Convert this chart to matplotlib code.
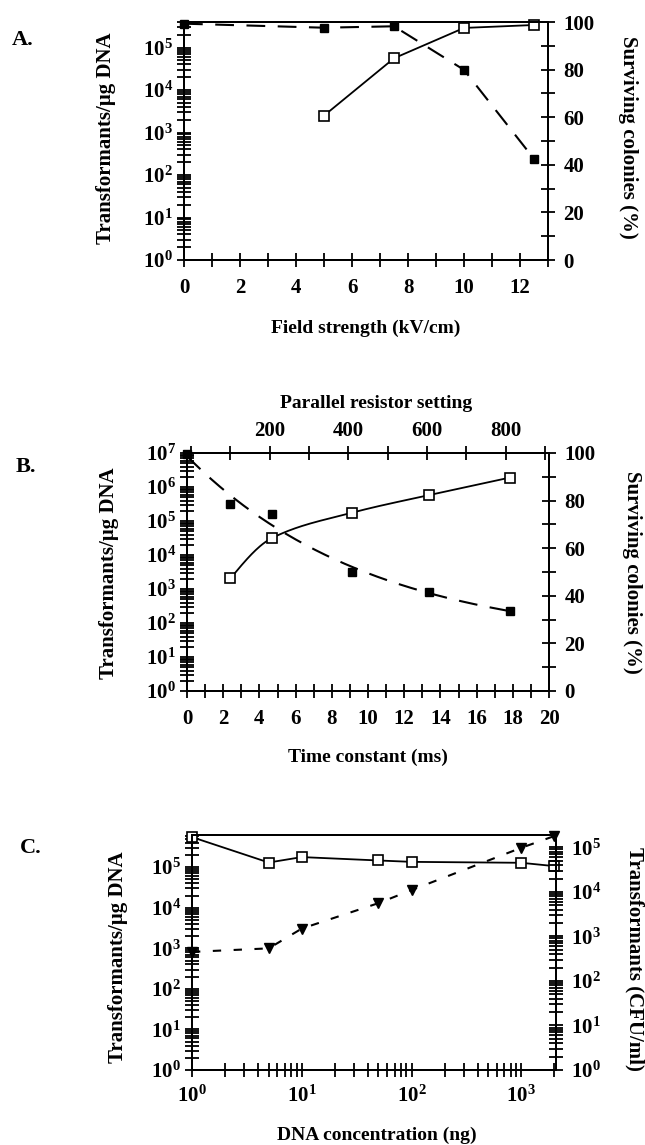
import numpy as np
import matplotlib
matplotlib.use('Agg')
import matplotlib.pyplot as plt
from matplotlib.ticker import MultipleLocator, FixedLocator, FuncFormatter, LogLocator, NullFormatter

plt.rcParams['font.family'] = ['Liberation Serif', 'DejaVu Serif']
plt.rcParams['font.weight'] = 'bold'
plt.rcParams['mathtext.fontset'] = 'custom'
plt.rcParams['mathtext.rm'] = 'Liberation Serif:bold'
plt.rcParams['mathtext.bf'] = 'Liberation Serif:bold'
plt.rcParams['mathtext.it'] = 'Liberation Serif:bold'

# ---------------- data ----------------
# Panel A
a_field = [5, 7.5, 10, 12.5]
a_transf = [2.5e3, 5.6e4, 2.9e5, 3.4e5]
a_surv_field = [0, 5, 7.5, 10, 12.5]
a_surv = [99.3, 97.6, 98.2, 79.9, 42.5]

# Panel B
b_time = [2.4, 4.67, 9.11, 13.38, 17.86]
b_transf = [2.05e3, 3.1e4, 1.75e5, 5.8e5, 1.9e6]
b_surv_time = [0, 2.4, 4.67, 9.11, 13.38, 17.86]
b_surv = [99.5, 78.6, 74.2, 49.9, 41.7, 33.6]
b_resistor_ticks = [200, 400, 600, 800]

# Panel C
c_dna = [1, 5, 10, 50, 100, 1000, 2000]
c_eff = [5.5e5, 1.3e5, 1.77e5, 1.46e5, 1.35e5, 1.28e5, 1.06e5]
c_cfu = [450, 540, 1.5e3, 5.6e3, 1.1e4, 9.8e4, 1.8e5]

# ---------------- helpers ----------------
W, H = 645, 1145
fig = plt.figure(figsize=(W / 100, H / 100), dpi=100)


def rect(l, t, r, b):
    return [l / W, 1 - b / H, (r - l) / W, (b - t) / H]


def ftext(x, y, s, **kw):
    fig.text(x / W, 1 - y / H, s, ha='center', va='center', fontweight='bold', **kw)


def pow_fmt(v, p):
    e = int(round(np.log10(v)))
    return r'$\mathbf{10}^{\mathbf{%d}}$' % e


def minor_log():
    return LogLocator(base=10, subs=np.arange(2, 10), numticks=100)


def pchip(x, y, xn):
    x = np.asarray(x, float)
    y = np.asarray(y, float)
    h = np.diff(x)
    d = np.diff(y) / h
    n = len(x)
    m = np.zeros(n)
    for k in range(1, n - 1):
        if d[k - 1] * d[k] > 0:
            w1 = 2 * h[k] + h[k - 1]
            w2 = h[k] + 2 * h[k - 1]
            m[k] = (w1 + w2) / (w1 / d[k - 1] + w2 / d[k])
    m[0] = ((2 * h[0] + h[1]) * d[0] - h[0] * d[1]) / (h[0] + h[1])
    if np.sign(m[0]) != np.sign(d[0]):
        m[0] = 0
    m[-1] = ((2 * h[-1] + h[-2]) * d[-1] - h[-1] * d[-2]) / (h[-1] + h[-2])
    if np.sign(m[-1]) != np.sign(d[-1]):
        m[-1] = 0
    out = np.empty_like(xn)
    for i, xv in enumerate(xn):
        k = min(max(np.searchsorted(x, xv) - 1, 0), n - 2)
        t = (xv - x[k]) / h[k]
        h00 = 2 * t**3 - 3 * t**2 + 1
        h10 = t**3 - 2 * t**2 + t
        h01 = -2 * t**3 + 3 * t**2
        h11 = t**3 - t**2
        out[i] = h00 * y[k] + h10 * h[k] * m[k] + h01 * y[k + 1] + h11 * h[k] * m[k + 1]
    return out


TL = 10
TW = 1.3
LS = 15


def base_style(ax):
    for s in ax.spines.values():
        s.set_linewidth(1.4)
    ax.tick_params(which='both', direction='inout', length=TL, width=TW, labelsize=LS)


sq_open = dict(marker='s', ms=6.5, mfc='white', mec='black', mew=1.2, color='black', clip_on=False)
sq_fill = dict(marker='s', ms=6, mfc='black', mec='black', color='black', clip_on=False)

# ---------------- Panel A ----------------
axA = fig.add_axes(rect(184, 22, 548, 260))
base_style(axA)
axA.set_yscale('log')
axA.set_ylim(1, 4e5)
axA.set_xlim(0, 13)
axA.xaxis.set_major_locator(MultipleLocator(2))
axA.xaxis.set_minor_locator(MultipleLocator(1))
axA.yaxis.set_major_locator(FixedLocator([1, 10, 100, 1e3, 1e4, 1e5]))
axA.yaxis.set_minor_locator(minor_log())
axA.yaxis.set_major_formatter(FuncFormatter(pow_fmt))
axA.yaxis.set_minor_formatter(NullFormatter())
axA.tick_params(axis='x', pad=8)
axA.tick_params(axis='y', pad=3)
axA2 = axA.twinx()
base_style(axA2)
axA2.set_ylim(0, 100)
axA2.yaxis.set_major_locator(MultipleLocator(20))
axA2.yaxis.set_minor_locator(MultipleLocator(10))
axA2.tick_params(axis='y', pad=6)
axA.plot(a_field, a_transf, '-', lw=1.3, **sq_open)
axA2.plot(a_surv_field, a_surv, lw=1.5, dashes=(9, 6), **sq_fill)

ftext(23, 40, 'A.', fontsize=16)
ftext(106, 138, 'Transformants/µg DNA', fontsize=15, rotation=90)
ftext(628, 137, 'Surviving colonies (%)', fontsize=15, rotation=270)
ftext(366, 328, 'Field strength (kV/cm)', fontsize=14)

# ---------------- Panel B ----------------
axB = fig.add_axes(rect(187, 453, 549, 691))
base_style(axB)
axB.set_yscale('log')
axB.set_ylim(1, 1e7)
axB.set_xlim(0, 20)
axB.xaxis.set_major_locator(MultipleLocator(2))
axB.xaxis.set_minor_locator(MultipleLocator(1))
axB.yaxis.set_major_locator(FixedLocator([1, 10, 100, 1e3, 1e4, 1e5, 1e6, 1e7]))
axB.yaxis.set_minor_locator(minor_log())
axB.yaxis.set_major_formatter(FuncFormatter(pow_fmt))
axB.yaxis.set_minor_formatter(NullFormatter())
axB.tick_params(axis='x', pad=8)
axB.tick_params(axis='y', pad=3)
axB2 = axB.twinx()
base_style(axB2)
axB2.set_ylim(0, 100)
axB2.yaxis.set_major_locator(MultipleLocator(20))
axB2.yaxis.set_minor_locator(MultipleLocator(10))
axB2.tick_params(axis='y', pad=6)
axB3 = axB.twiny()
base_style(axB3)
axB3.set_xlim(-10, 910)
axB3.xaxis.set_major_locator(FixedLocator(b_resistor_ticks))
axB3.xaxis.set_minor_locator(MultipleLocator(100))
axB3.tick_params(axis='x', pad=4)

# smooth fit for survival (exponential decay with offset)
xs = np.array(b_surv_time, float)
ys = np.array(b_surv, float)
best = None
for c in np.linspace(2, 40, 761):
    M = np.vstack([np.ones_like(xs), np.exp(-xs / c)]).T
    coef = np.linalg.lstsq(M, ys, rcond=None)[0]
    r = np.sum((M @ coef - ys) ** 2)
    if best is None or r < best[0]:
        best = (r, c, coef)
_, cb, coefb = best
xf = np.linspace(0, max(b_surv_time), 200)
axB2.plot(xf, coefb[0] + coefb[1] * np.exp(-xf / cb), color='black', lw=1.5, dashes=(9, 6))
axB2.plot(b_surv_time, b_surv, ls='none', **sq_fill)

xt = np.linspace(min(b_time), max(b_time), 200)
axB.plot(xt, 10 ** pchip(b_time, np.log10(b_transf), xt), color='black', lw=1.3)
axB.plot(b_time, b_transf, ls='none', **sq_open)

ftext(26, 467, 'B.', fontsize=16)
ftext(109, 573, 'Transformants/µg DNA', fontsize=15, rotation=90)
ftext(632, 572, 'Surviving colonies (%)', fontsize=15, rotation=270)
ftext(376, 403, 'Parallel resistor setting', fontsize=14)
ftext(368, 757, 'Time constant (ms)', fontsize=14)

# ---------------- Panel C ----------------
axC = fig.add_axes(rect(192, 835, 555.5, 1070))
base_style(axC)
axC.set_xscale('log')
axC.set_yscale('log')
axC.set_xlim(1, 2050)
axC.set_ylim(1, 6.2e5)
axC.xaxis.set_major_locator(FixedLocator([1, 10, 100, 1000]))
axC.xaxis.set_minor_locator(minor_log())
axC.xaxis.set_major_formatter(FuncFormatter(pow_fmt))
axC.xaxis.set_minor_formatter(NullFormatter())
axC.yaxis.set_major_locator(FixedLocator([1, 10, 100, 1e3, 1e4, 1e5]))
axC.yaxis.set_minor_locator(minor_log())
axC.yaxis.set_major_formatter(FuncFormatter(pow_fmt))
axC.yaxis.set_minor_formatter(NullFormatter())
axC.tick_params(axis='x', pad=6)
axC.tick_params(axis='y', pad=3)
axC2 = axC.twinx()
base_style(axC2)
axC2.set_yscale('log')
axC2.set_ylim(1, 1.9e5)
axC2.yaxis.set_major_locator(FixedLocator([1, 10, 100, 1e3, 1e4, 1e5]))
axC2.yaxis.set_minor_locator(minor_log())
axC2.yaxis.set_major_formatter(FuncFormatter(pow_fmt))
axC2.yaxis.set_minor_formatter(NullFormatter())
axC2.tick_params(axis='y', pad=6)

axC.plot(c_dna, c_eff, '-', lw=1.3, **sq_open)
axC2.plot(c_dna, c_cfu, color='black', lw=1.5, dashes=(4, 6), marker='v', ms=7,
          mfc='black', mec='black', clip_on=False)

ftext(31, 848, 'C.', fontsize=16)
ftext(118, 957, 'Transformants/µg DNA', fontsize=15, rotation=90)
ftext(635, 959, 'Transformants (CFU/ml)', fontsize=15, rotation=270)
ftext(377, 1135, 'DNA concentration (ng)', fontsize=14)

fig.savefig('out.png', dpi=100)
